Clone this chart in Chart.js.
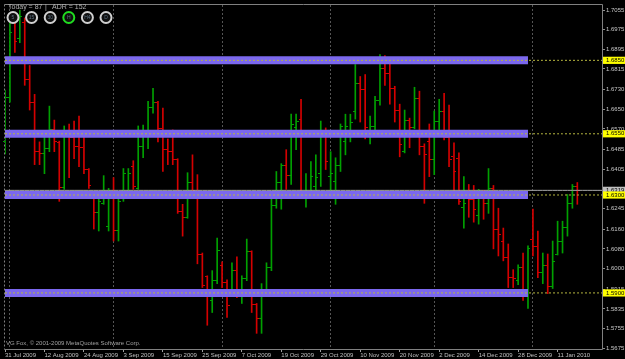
<!DOCTYPE html>
<html lang="en">
<head>
<meta charset="UTF-8">
<title>GBPUSD Daily</title>
<style>
  html, body { margin: 0; padding: 0; background: #000; }
  canvas { display: block; }
</style>
</head>
<body>
<canvas id="chart" width="625" height="359"></canvas>
<script src="https://cdn.jsdelivr.net/npm/chart.js"></script>
<script>
// daily bars 31 Jul 2009 - Jan 2010
const opens = [
  1.6517, 1.6699, 1.7003, 1.6938, 1.7003, 1.6772, 1.6679, 1.6477, 1.6468, 1.6489,
  1.6566, 1.6515, 1.6331, 1.6545, 1.6533, 1.6497, 1.6493, 1.6404, 1.6305, 1.6229,
  1.6265, 1.6173, 1.6305, 1.6153, 1.6294, 1.6315, 1.6416, 1.6325, 1.6497, 1.6558,
  1.6659, 1.6679, 1.6570, 1.6485, 1.6477, 1.6444, 1.6234, 1.6209, 1.6351, 1.6315,
  1.6059, 1.5966, 1.5869, 1.5950, 1.6011, 1.5942, 1.5909, 1.5991, 1.5909, 1.5958,
  1.6068, 1.5853, 1.5796, 1.5914, 1.6003, 1.6258, 1.6351, 1.6420, 1.6379, 1.6575,
  1.6610, 1.6302, 1.6315, 1.6335, 1.6387, 1.6558, 1.6375, 1.6355, 1.6420, 1.6517,
  1.6565, 1.6639, 1.6756, 1.6732, 1.6565, 1.6578, 1.6687, 1.6817, 1.6796, 1.6736,
  1.6647, 1.6477, 1.6606, 1.6574, 1.6695, 1.6497, 1.6517, 1.6444, 1.6602, 1.6639,
  1.6533, 1.6456, 1.6448, 1.6250, 1.6287, 1.6280, 1.6217, 1.6302, 1.6266, 1.6327,
  1.6161, 1.6112, 1.6043, 1.5962, 1.5950, 1.6003, 1.5909, 1.6120, 1.6088, 1.5982,
  1.6011, 1.5926, 1.6057, 1.6112, 1.6169, 1.6266, 1.6335
];
const highs = [
  1.6728, 1.7011, 1.7035, 1.7055, 1.7023, 1.6829, 1.6711, 1.6517, 1.6558, 1.6663,
  1.6606, 1.6520, 1.6582, 1.6590, 1.6602, 1.6622, 1.6537, 1.6408, 1.6306, 1.6302,
  1.6379, 1.6327, 1.6371, 1.6294, 1.6408, 1.6408, 1.6440, 1.6582, 1.6586, 1.6683,
  1.6736, 1.6683, 1.6655, 1.6529, 1.6566, 1.6448, 1.6262, 1.6391, 1.6464, 1.6383,
  1.6063, 1.5970, 1.5991, 1.6124, 1.6027, 1.5954, 1.6023, 1.6047, 1.5970, 1.6120,
  1.6072, 1.5857, 1.5938, 1.6023, 1.6294, 1.6396, 1.6428, 1.6485, 1.6630, 1.6630,
  1.6691, 1.6387, 1.6436, 1.6464, 1.6602, 1.6574, 1.6477, 1.6452, 1.6590, 1.6630,
  1.6630, 1.6833, 1.6784, 1.6792, 1.6622, 1.6703, 1.6873, 1.6869, 1.6841, 1.6744,
  1.6671, 1.6647, 1.6614, 1.6740, 1.6724, 1.6509, 1.6590, 1.6643, 1.6691, 1.6715,
  1.6667, 1.6513, 1.6472, 1.6375, 1.6343, 1.6339, 1.6323, 1.6319, 1.6408, 1.6339,
  1.6246, 1.6165, 1.6100, 1.5995, 1.6015, 1.6063, 1.6092, 1.6242, 1.6153, 1.6063,
  1.6059, 1.6112, 1.6193, 1.6193, 1.6302, 1.6343, 1.6351
];
const lows = [
  1.6468, 1.6679, 1.6882, 1.6922, 1.6748, 1.6647, 1.6424, 1.6424, 1.6387, 1.6477,
  1.6477, 1.6274, 1.6323, 1.6371, 1.6448, 1.6416, 1.6387, 1.6327, 1.6161, 1.6153,
  1.6262, 1.6153, 1.6112, 1.6112, 1.6274, 1.6286, 1.6323, 1.6323, 1.6452, 1.6489,
  1.6634, 1.6517, 1.6396, 1.6424, 1.6424, 1.6225, 1.6132, 1.6205, 1.6315, 1.6019,
  1.5922, 1.5768, 1.5820, 1.5938, 1.5922, 1.5800, 1.5901, 1.5881, 1.5857, 1.5950,
  1.5820, 1.5735, 1.5735, 1.5909, 1.5991, 1.6246, 1.6242, 1.6323, 1.6343, 1.6485,
  1.6294, 1.6250, 1.6286, 1.6286, 1.6335, 1.6404, 1.6302, 1.6262, 1.6396, 1.6464,
  1.6517, 1.6610, 1.6598, 1.6529, 1.6509, 1.6566, 1.6667, 1.6748, 1.6671, 1.6598,
  1.6456, 1.6472, 1.6493, 1.6570, 1.6464, 1.6266, 1.6375, 1.6383, 1.6549, 1.6525,
  1.6416, 1.6306, 1.6262, 1.6165, 1.6209, 1.6189, 1.6181, 1.6201, 1.6225, 1.6080,
  1.6051, 1.6031, 1.5922, 1.5922, 1.5934, 1.5869, 1.5837, 1.6051, 1.5962, 1.5938,
  1.5897, 1.5918, 1.6055, 1.6063, 1.6132, 1.6246, 1.6262
];
const closes = [
  1.6699, 1.6963, 1.6926, 1.7027, 1.6772, 1.6679, 1.6477, 1.6468, 1.6489, 1.6566,
  1.6517, 1.6331, 1.6545, 1.6533, 1.6497, 1.6493, 1.6404, 1.6339, 1.6229, 1.6274,
  1.6285, 1.6294, 1.6153, 1.6274, 1.6387, 1.6387, 1.6335, 1.6497, 1.6558, 1.6659,
  1.6679, 1.6570, 1.6485, 1.6477, 1.6444, 1.6234, 1.6209, 1.6351, 1.6318, 1.6059,
  1.5930, 1.5889, 1.5950, 1.6072, 1.5942, 1.5849, 1.5991, 1.5909, 1.5958, 1.6068,
  1.5853, 1.5796, 1.5914, 1.6003, 1.6258, 1.6351, 1.6420, 1.6379, 1.6586, 1.6600,
  1.6302, 1.6315, 1.6375, 1.6371, 1.6558, 1.6436, 1.6387, 1.6420, 1.6578, 1.6578,
  1.6595, 1.6756, 1.6732, 1.6574, 1.6580, 1.6687, 1.6817, 1.6796, 1.6736, 1.6647,
  1.6505, 1.6606, 1.6574, 1.6695, 1.6497, 1.6464, 1.6444, 1.6602, 1.6639, 1.6533,
  1.6444, 1.6396, 1.6274, 1.6265, 1.6280, 1.6242, 1.6302, 1.6266, 1.6327, 1.6161,
  1.6140, 1.6043, 1.5962, 1.5958, 1.6003, 1.5909, 1.6080, 1.6088, 1.5982, 1.6011,
  1.5926, 1.6027, 1.6112, 1.6169, 1.6266, 1.6335, 1.6319
];

const dateLabels = ['31 Jul 2009', '12 Aug 2009', '24 Aug 2009', '3 Sep 2009', '15 Sep 2009',
  '25 Sep 2009', '7 Oct 2009', '19 Oct 2009', '29 Oct 2009', '10 Nov 2009', '20 Nov 2009',
  '2 Dec 2009', '14 Dec 2009', '28 Dec 2009', '11 Jan 2010'];
const priceTicks = [1.7055, 1.6975, 1.6895, 1.6815, 1.6730, 1.6650, 1.6570, 1.6485, 1.6405,
  1.6325, 1.6245, 1.6160, 1.6080, 1.6000, 1.5915, 1.5835, 1.5755, 1.5675];
const levels = [1.6850, 1.6550, 1.6300, 1.5900];
const bid = 1.6319;
const monthStarts = [1, 22, 44, 66, 87, 107];   // bar index of each period separator
const barsPerLabel = 8;
const slots = 122;      // bars + empty shift space on the right
const bandEnd = 106;    // last bar the zones are drawn over
const infoText = ['Today = 87', '|', 'ADR = 152'];
const tfButtons = ['5', '15', '30', 'H', 'H4', 'D'];
const activeTf = 3;
const copyright = 'VG Fox, \u00a9 2001-2009 MetaQuotes Software Corp.';

const UP = '#00a000';
const DOWN = '#d40000';
const isUp = i => closes[i] >= opens[i];

const labels = Array.from({length: slots}, (_, i) =>
  i % barsPerLabel === 0 && dateLabels[i / barsPerLabel] ? dateLabels[i / barsPerLabel] : '');

// small open / close tick images used as point styles
function tickImage(color, left) {
  const c = document.createElement('canvas');
  c.width = 5; c.height = 1;
  const g = c.getContext('2d');
  g.fillStyle = color;
  g.fillRect(left ? 0 : 3, 0, 2, 1);
  return c;
}
const openUp = tickImage(UP, true), openDown = tickImage(DOWN, true);
const closeUp = tickImage(UP, false), closeDown = tickImage(DOWN, false);

const datasets = [];

// bid line
datasets.push({
  type: 'line', data: labels.map(() => bid), borderColor: '#a8a8a8', borderWidth: 1,
  pointRadius: 0, order: 0
});
// dotted level lines
levels.forEach(lv => datasets.push({
  type: 'line', data: labels.map(() => lv), borderColor: '#b8b840', borderWidth: 1,
  borderDash: [2, 2], pointRadius: 0, order: 1
}));
// purple zones
levels.forEach(lv => datasets.push({
  type: 'line', data: labels.map((_, i) => i <= bandEnd ? lv : null), borderColor: '#7b68ee',
  borderWidth: 8, borderCapStyle: 'butt', pointRadius: 0, spanGaps: false, order: 2
}));
// OHLC bars
datasets.push({
  type: 'bar', data: lows.map((l, i) => [l, highs[i]]),
  backgroundColor: ctx => isUp(ctx.dataIndex) ? UP : DOWN,
  borderWidth: 0, barThickness: 1, order: 5
});
datasets.push({
  type: 'line', data: opens, showLine: false, pointRadius: 2,
  pointStyle: ctx => isUp(ctx.dataIndex) ? openUp : openDown, order: 4
});
datasets.push({
  type: 'line', data: closes, showLine: false, pointRadius: 2,
  pointStyle: ctx => isUp(ctx.dataIndex) ? closeUp : closeDown, order: 4
});

const mtOverlay = {
  id: 'mtOverlay',
  beforeDraw(chart) {
    chart.ctx.imageSmoothingEnabled = false;
  },
  beforeDatasetsDraw(chart) {
    const {ctx, chartArea: a} = chart;
    ctx.save();
    ctx.lineWidth = 1;
    ctx.strokeStyle = '#808080';
    ctx.beginPath();
    ctx.moveTo(a.left - 0.5, a.top - 0.5);
    ctx.lineTo(a.right + 0.5, a.top - 0.5);
    ctx.lineTo(a.right + 0.5, a.bottom + 0.5);
    ctx.lineTo(a.left - 0.5, a.bottom + 0.5);
    ctx.stroke();
    ctx.setLineDash([2, 2]);
    ctx.beginPath();
    ctx.moveTo(a.left - 0.5, a.top - 0.5);
    ctx.lineTo(a.left - 0.5, a.bottom + 0.5);
    ctx.stroke();
    ctx.restore();
  },
  afterDraw(chart) {
    const {ctx, chartArea: a} = chart;
    ctx.save();
    ctx.font = '7px "Liberation Sans", Arial, sans-serif';
    ctx.fillStyle = '#b0b0b0';
    ctx.textBaseline = 'alphabetic';
    ctx.fillText(infoText[0], a.left + 3, 9);
    ctx.fillText(infoText[1], a.left + 40, 9);
    ctx.fillText(infoText[2], a.left + 47, 9);

    tfButtons.forEach((t, i) => {
      const cx = a.left + 8 + i * 18.6, cy = 17.5;
      ctx.beginPath();
      ctx.arc(cx, cy, 5.5, 0, Math.PI * 2);
      ctx.fillStyle = '#101010';
      ctx.fill();
      ctx.lineWidth = 2;
      ctx.strokeStyle = i === activeTf ? '#20dd20' : '#d0d0d0';
      ctx.stroke();
      ctx.fillStyle = '#5c7080';
      ctx.font = '5px "Liberation Sans", Arial, sans-serif';
      ctx.textAlign = 'center';
      ctx.textBaseline = 'middle';
      ctx.fillText(t, cx, cy + 0.5);
    });

    ctx.textAlign = 'left';
    ctx.textBaseline = 'alphabetic';
    ctx.font = '6px "Liberation Sans", Arial, sans-serif';
    ctx.fillStyle = '#a0a0a0';
    ctx.fillText(copyright, a.left + 1, a.bottom - 4);
    ctx.restore();
  }
};

Chart.defaults.font.family = '"Liberation Sans", Arial, sans-serif';

new Chart(document.getElementById('chart'), {
  type: 'bar',
  data: { labels: labels, datasets: datasets },
  options: {
    responsive: false,
    animation: false,
    events: [],
    layout: { padding: { left: 2, top: 2, right: 0, bottom: 0 } },
    plugins: { legend: { display: false }, tooltip: { enabled: false } },
    scales: {
      x: {
        type: 'category',
        offset: false,
        afterFit: s => { s.height = 10; },
        grid: {
          offset: false,
          drawTicks: true,
          tickLength: 3,
          lineWidth: 1,
          color: ctx => monthStarts.includes(ctx.index) ? '#555555' : 'transparent',
          tickColor: ctx => labels[ctx.index] ? '#a0a0a0' : 'transparent'
        },
        border: { display: false, dash: [2, 2] },
        ticks: {
          autoSkip: false, maxRotation: 0, minRotation: 0, align: 'start', padding: 0,
          color: '#c0c0c0', font: { size: 6 }
        }
      },
      y: {
        position: 'right',
        min: 1.5671,
        max: 1.7076,
        bounds: 'data',
        afterBuildTicks: s => {
          s.ticks = priceTicks.concat([bid], levels).map(v => ({ value: v }));
        },
        afterFit: s => { s.width = 23; },
        grid: { drawOnChartArea: false, drawTicks: true, tickLength: 3, tickColor: '#909090' },
        border: { display: false },
        ticks: {
          autoSkip: false,
          padding: 1,
          font: { size: 6 },
          callback: v => Number(v).toFixed(4),
          color: ctx => ctx.index >= priceTicks.length ? '#000000' : '#c8c8c8',
          showLabelBackdrop: ctx => ctx.index >= priceTicks.length,
          backdropColor: ctx => ctx.index === priceTicks.length ? '#c0c0c0' : '#ffff00',
          backdropPadding: { top: 0, bottom: 0, left: 3, right: 3 }
        }
      }
    }
  },
  plugins: [mtOverlay]
});
</script>
</body>
</html>
